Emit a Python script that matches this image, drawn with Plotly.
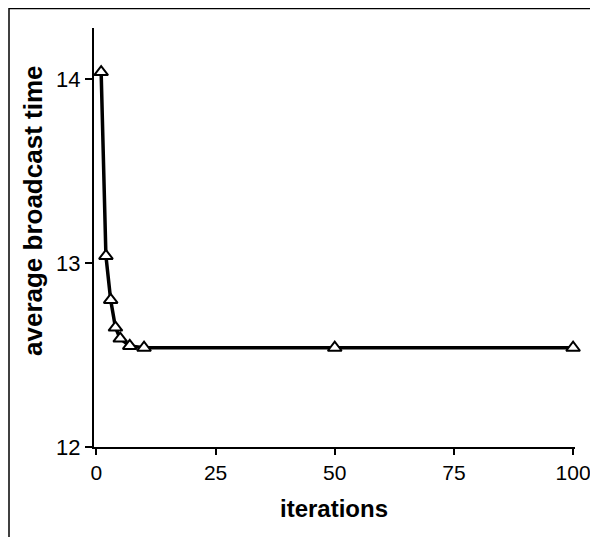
import plotly.graph_objects as go

iterations = [1, 2, 3, 4, 5, 7, 10, 50, 100]
avg_broadcast_time = [14.04, 13.04, 12.80, 12.65, 12.59, 12.55, 12.54, 12.54, 12.54]
x_ticks = [0, 25, 50, 75, 100]
y_ticks = [12, 13, 14]

# page has an 8px body margin, so the figure is offset by 8px
OFF = 8
W, H = 598 - OFF, 537 - OFF
# screen-pixel plot area: left 94, right 575, top 28, bottom 447
ML, MT, MB = 94 - OFF, 28 - OFF, 537 - 447
MR = W - (575 - OFF)
pw, ph = W - ML - MR, H - MT - MB

def px_x(p):
    return (p - OFF - ML) / pw

def px_y(p):
    return (H - MB - (p - OFF)) / ph

fig = go.Figure()
fig.add_trace(go.Scatter(
    x=iterations, y=avg_broadcast_time, mode="lines+markers",
    line=dict(color="black", width=3.5),
    marker=dict(symbol="triangle-up", size=12, color="white",
                line=dict(color="black", width=2)),
    showlegend=False, cliponaxis=False,
))

font = dict(family="Liberation Sans, Arial, sans-serif", size=22, color="black")

fig.update_layout(
    width=W, height=H,
    margin=dict(l=ML, r=MR, t=MT, b=MB, autoexpand=False),
    paper_bgcolor="white", plot_bgcolor="white",
    font=font,
    xaxis=dict(range=[-0.5, 100.4], tickvals=x_ticks, showgrid=False, zeroline=False,
               showline=True, linecolor="black", linewidth=2, automargin=False,
               ticks="outside", ticklen=6, tickwidth=2, tickcolor="black",
               tickfont=dict(size=21)),
    yaxis=dict(range=[12, 14.28], tickvals=y_ticks, showgrid=False, zeroline=False,
               showline=True, linecolor="black", linewidth=2, automargin=False,
               ticks="outside", ticklen=7, tickwidth=2, tickcolor="black",
               tickfont=dict(size=22)),
    shapes=[
        dict(type="line", xref="paper", yref="paper",
             x0=px_x(9), x1=px_x(9), y0=px_y(8), y1=px_y(545),
             line=dict(color="black", width=1.5)),
        dict(type="line", xref="paper", yref="paper",
             x0=px_x(9), x1=px_x(620), y0=px_y(8.5), y1=px_y(8.5),
             line=dict(color="black", width=1.5)),
    ],
    annotations=[
        dict(text="<b>average broadcast time</b>", textangle=-90,
             xref="paper", yref="paper", x=px_x(33), y=px_y(211),
             showarrow=False, font=dict(size=26), xanchor="center", yanchor="middle"),
        dict(text="<b>iterations</b>",
             xref="paper", yref="paper", x=px_x(334), y=px_y(508),
             showarrow=False, font=dict(size=24), xanchor="center", yanchor="middle"),
    ],
)

fig.write_html("out.html")
